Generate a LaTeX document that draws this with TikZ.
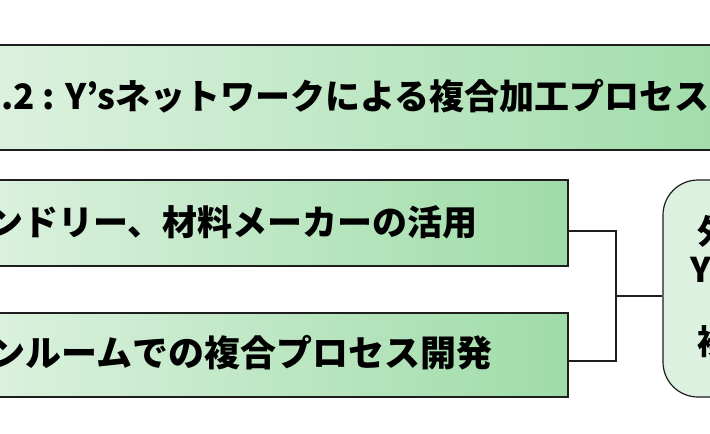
\documentclass[tikz,border=0pt]{standalone}
\usepackage{fontspec}
\newfontfamily\jp{Noto Sans CJK JP}
\definecolor{gl}{HTML}{DDF2E0}
\definecolor{gr}{HTML}{9FDCA8}
\definecolor{rbfill}{HTML}{DCF1DF}
\definecolor{edge}{HTML}{1E1E1E}
\tikzset{
  gbox/.style={draw=edge, line width=1.2pt, left color=gl, right color=gr, inner sep=0pt},
  rbox/.style={draw=edge, line width=1.2pt, fill=rbfill, rounded corners=35pt, inner sep=0pt},
  lbl/.style={inner sep=0pt, anchor=base west, font=\jp\bfseries\fontsize{34}{40}\selectfont, text=black},
  conn/.style={draw=edge, line width=1.1pt}
}
\begin{document}
\begin{tikzpicture}[x=1pt,y=-1pt]
\useasboundingbox (0,0) rectangle (710,434);
\clip (0,0) rectangle (710,434);
\fill[white] (0,0) rectangle (710,434);
\node[gbox, minimum width=780pt, minimum height=105pt] (top) at (370,97.5) {};
\node[gbox, minimum width=598pt, minimum height=86pt] (b2) at (269,223) {};
\node[gbox, minimum width=598pt, minimum height=84pt] (b3) at (269,355) {};
\node[rbox, minimum width=157pt, minimum height=217pt] (rb) at (741.5,288.5) {};
\node[lbl, font=\jp\bfseries\fontsize{35}{40}\selectfont] (t1) at (1,109) {.2 : Y’sネットワークによる複合加工プロセス};
\node[lbl, font=\jp\bfseries\fontsize{35}{40}\selectfont] (t2) at (-12,235) {ンドリー、材料メーカーの活用};
\node[lbl, font=\jp\bfseries\fontsize{36}{40}\selectfont] (t3) at (-11,366.5) {ンルームでの複合プロセス開発};
\node[lbl] (r1) at (697,244) {外};
\node[lbl] (r2) at (690,282) {Y’s};
\node[lbl] (r3) at (697,354.5) {複};
\coordinate (j) at (616,296);
\draw[conn] ([yshift=-8pt]b2.east) -| (j);
\draw[conn] ([yshift=-6pt]b3.east) -| (j);
\draw[conn] (j) -- (rb.west |- j);
\end{tikzpicture}
\end{document}
